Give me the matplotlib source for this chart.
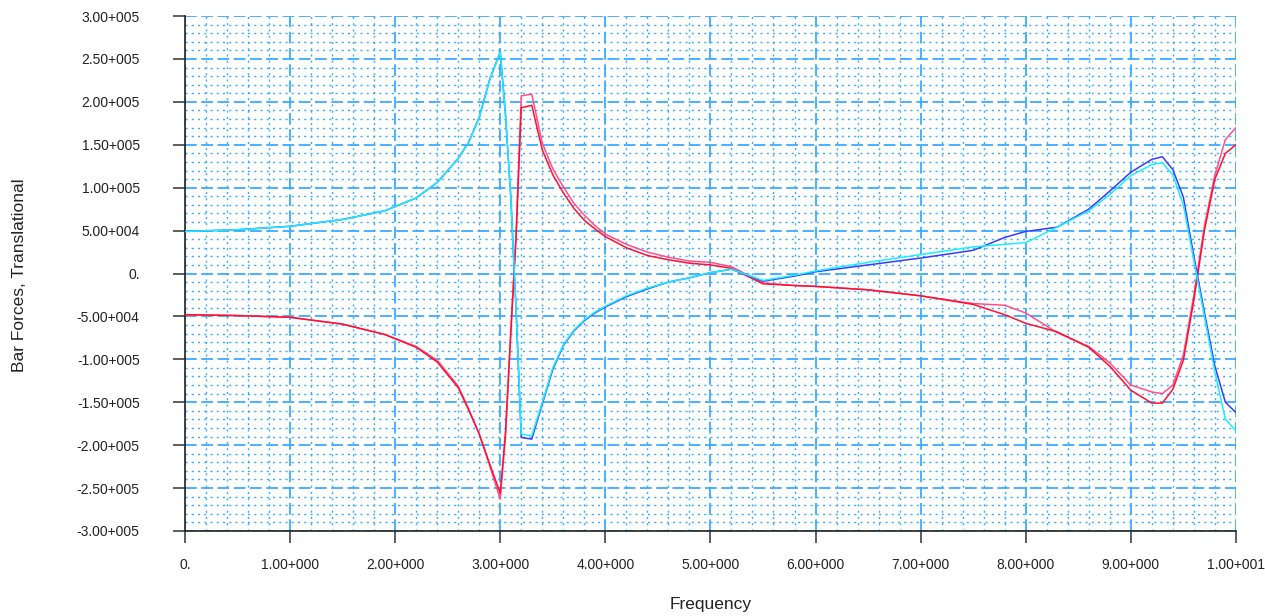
import matplotlib
matplotlib.use("Agg")
import matplotlib.pyplot as plt
from matplotlib.ticker import MultipleLocator, FuncFormatter

# frequencies of the sampled points (shared by all four curves)
freq = [0.0, 0.5, 1.0, 1.5, 1.9, 2.2, 2.4, 2.6, 2.7, 2.8, 2.9, 3.0,
        3.05, 3.1, 3.15, 3.2, 3.3, 3.4, 3.5, 3.6, 3.7, 3.8, 3.9, 4.0,
        4.2, 4.4, 4.6, 4.8, 5.0, 5.2, 5.5, 5.8, 6.0, 6.5, 7.0, 7.5,
        7.8, 8.0, 8.3, 8.6, 8.8, 9.0, 9.2, 9.3, 9.4, 9.5, 9.6, 9.7,
        9.8, 9.9, 10.0]

force_blue = [4.9e4, 5.1e4, 5.5e4, 6.3e4, 7.3e4, 8.8e4, 1.06e5, 1.34e5, 1.53e5, 1.82e5, 2.26e5, 2.58e5,
              1.85e5, 9.0e4, -4.0e4, -1.91e5, -1.93e5, -1.52e5, -1.12e5, -8.4e4, -6.7e4, -5.5e4, -4.6e4, -3.9e4,
              -2.7e4, -1.8e4, -1.0e4, -5e3, 1e3, 5e3, -9e3, -3e3, 2e3, 1.0e4, 1.8e4, 2.7e4,
              4.2e4, 4.9e4, 5.4e4, 7.5e4, 9.6e4, 1.18e5, 1.33e5, 1.36e5, 1.21e5, 8.9e4, 2.0e4, -4.5e4,
              -1.08e5, -1.50e5, -1.62e5]

force_cyan = [4.9e4, 5.1e4, 5.5e4, 6.3e4, 7.3e4, 8.8e4, 1.06e5, 1.34e5, 1.53e5, 1.82e5, 2.26e5, 2.58e5,
              1.85e5, 9.0e4, -4.0e4, -1.87e5, -1.89e5, -1.50e5, -1.10e5, -8.3e4, -6.6e4, -5.4e4, -4.5e4, -3.8e4,
              -2.6e4, -1.7e4, -1.0e4, -5e3, 1e3, 5e3, -8e3, -2e3, 3e3, 1.3e4, 2.2e4, 3.1e4,
              3.4e4, 3.6e4, 5.4e4, 7.3e4, 9.2e4, 1.14e5, 1.27e5, 1.29e5, 1.15e5, 8.0e4, 1.5e4, -5.0e4,
              -1.15e5, -1.70e5, -1.83e5]

force_red = [-4.8e4, -4.9e4, -5.1e4, -5.9e4, -7.1e4, -8.6e4, -1.03e5, -1.33e5, -1.59e5, -1.87e5, -2.22e5, -2.56e5,
             -1.85e5, -7.0e4, 4.0e4, 1.93e5, 1.96e5, 1.44e5, 1.15e5, 9.4e4, 7.6e4, 6.2e4, 5.2e4, 4.3e4,
             3.0e4, 2.1e4, 1.6e4, 1.2e4, 1.0e4, 6e3, -1.2e4, -1.4e4, -1.5e4, -1.9e4, -2.6e4, -3.6e4,
             -4.8e4, -5.8e4, -6.8e4, -8.6e4, -1.08e5, -1.36e5, -1.51e5, -1.51e5, -1.35e5, -1.01e5, -3.1e4, 5.0e4,
             1.10e5, 1.40e5, 1.50e5]

force_pink = [-4.8e4, -4.9e4, -5.1e4, -5.9e4, -7.1e4, -8.5e4, -1.01e5, -1.31e5, -1.58e5, -1.87e5, -2.24e5, -2.63e5,
              -1.90e5, -7.0e4, 4.5e4, 2.07e5, 2.09e5, 1.52e5, 1.22e5, 1.01e5, 8.2e4, 6.8e4, 5.6e4, 4.6e4,
              3.4e4, 2.5e4, 1.9e4, 1.45e4, 1.3e4, 8e3, -1.1e4, -1.4e4, -1.5e4, -1.9e4, -2.6e4, -3.5e4,
              -3.7e4, -4.6e4, -6.9e4, -8.5e4, -1.04e5, -1.30e5, -1.38e5, -1.40e5, -1.30e5, -9.5e4, -2.5e4, 5.5e4,
              1.15e5, 1.56e5, 1.70e5]

GRID = "#3aaaff"


def sci_label(v, pos):
    # 3.00+005 style labels, zero shown as "0."
    if abs(v) < 1e-9:
        return "0."
    exp = 0
    m = abs(v)
    while m >= 10:
        m /= 10
        exp += 1
    while m < 1:
        m *= 10
        exp -= 1
    sign = "-" if v < 0 else ""
    return f"{sign}{m:.2f}{exp:+04d}"


def main() -> None:
    plt.rcParams["font.family"] = ["Liberation Sans", "DejaVu Sans"]
    fig = plt.figure(figsize=(12.65, 6.16), dpi=100)
    ax = fig.add_axes([0.1462, 0.138, 0.8308, 0.836])

    ax.plot(freq, force_pink, color="#ff4f8a", lw=1.1, zorder=3)
    ax.plot(freq, force_red, color="#ff1030", lw=1.1, zorder=3)
    ax.plot(freq, force_blue, color="#3a3aff", lw=1.1, zorder=3)
    ax.plot(freq, force_cyan, color="#19f0ff", lw=1.1, zorder=3)

    ax.set_xlim(0, 10)
    ax.set_ylim(-3e5, 3e5)
    ax.xaxis.set_major_locator(MultipleLocator(1.0))
    ax.xaxis.set_minor_locator(MultipleLocator(0.2))
    ax.yaxis.set_major_locator(MultipleLocator(5e4))
    ax.yaxis.set_minor_locator(MultipleLocator(1e4))
    ax.xaxis.set_major_formatter(FuncFormatter(sci_label))
    ax.yaxis.set_major_formatter(FuncFormatter(sci_label))

    ax.grid(which="major", color=GRID, lw=1.3, linestyle=(0, (6.5, 2.5)), zorder=1)
    ax.grid(which="minor", color=GRID, lw=1.0, linestyle=(0, (1.5, 3)), zorder=1)
    ax.set_axisbelow(True)

    for side in ("top", "right"):
        ax.spines[side].set_visible(False)
    for side in ("left", "bottom"):
        ax.spines[side].set_color("#222222")
        ax.spines[side].set_linewidth(1.2)

    ax.tick_params(which="major", direction="out", length=8.6, width=1.1,
                   color="#333333", labelsize=10, labelcolor="#222222")
    ax.tick_params(axis="y", which="major", pad=24)
    ax.tick_params(axis="x", which="major", pad=11)
    ax.tick_params(which="minor", length=0)

    ax.set_xlabel("Frequency", fontsize=12.5, color="#222222")
    ax.set_ylabel("Bar Forces, Translational", fontsize=12.5, color="#222222")
    ax.xaxis.set_label_coords(0.5, -0.128)
    ax.yaxis.set_label_coords(-0.1503, 0.497)

    fig.savefig("out.png", dpi=100)


if __name__ == "__main__":
    main()
